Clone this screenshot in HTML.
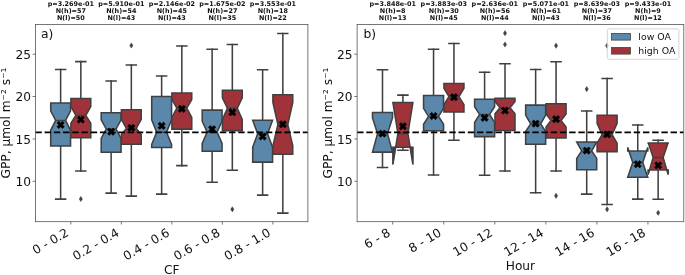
<!DOCTYPE html>
<html lang="en"><head><meta charset="utf-8"><title>GPP boxplots</title>
<style>html,body{margin:0;padding:0;background:#fff}svg{display:block}</style></head>
<body>
<svg width="685" height="275" viewBox="0 0 685 275" font-family="'DejaVu Sans','Liberation Sans',sans-serif" fill="#111">
<rect width="685" height="275" fill="#fff"/>
<clipPath id="cl"><rect x="35.4" y="24.5" width="272.5" height="197.2"/></clipPath>
<g clip-path="url(#cl)">
<path d="M60.63 103V69.45M60.63 146V199.1" stroke="#404040" stroke-width="1.55" fill="none" stroke-linecap="square"/>
<path d="M55.67 69.45H65.59M55.67 199.1H65.59" stroke="#404040" stroke-width="1.55" fill="none" stroke-linecap="square"/>
<path d="M50.7 146 L70.55 146 L70.55 130.3 L65.59 120.4 L70.55 110.9 L70.55 103 L50.7 103 L50.7 110.9 L55.67 120.4 L50.7 130.3 L50.7 146Z" fill="#5b87ab" stroke="#404040" stroke-width="1.55" stroke-linejoin="miter"/>
<path d="M55.67 120.4H65.59" stroke="#404040" stroke-width="1.55" fill="none"/>
<path d="M80.83 98.4V61.6M80.83 137.7V171" stroke="#404040" stroke-width="1.55" fill="none" stroke-linecap="square"/>
<path d="M75.87 61.6H85.79M75.87 171H85.79" stroke="#404040" stroke-width="1.55" fill="none" stroke-linecap="square"/>
<path d="M70.9 137.7 L90.75 137.7 L90.75 123.2 L85.79 115.4 L90.75 106.5 L90.75 98.4 L70.9 98.4 L70.9 106.5 L75.87 115.4 L70.9 123.2 L70.9 137.7Z" fill="#a0333a" stroke="#404040" stroke-width="1.55" stroke-linejoin="miter"/>
<path d="M75.87 115.4H85.79" stroke="#404040" stroke-width="1.55" fill="none"/>
<path d="M80.83 196.4L82.43 199L80.83 201.6L79.23 199Z" fill="#404040" stroke="#404040" stroke-width="0.5"/>
<path d="M111.13 112.8V81M111.13 152.3V193.1" stroke="#404040" stroke-width="1.55" fill="none" stroke-linecap="square"/>
<path d="M106.17 81H116.09M106.17 193.1H116.09" stroke="#404040" stroke-width="1.55" fill="none" stroke-linecap="square"/>
<path d="M101.2 152.3 L121.05 152.3 L121.05 138.4 L116.09 129 L121.05 119.8 L121.05 112.8 L101.2 112.8 L101.2 119.8 L106.17 129 L101.2 138.4 L101.2 152.3Z" fill="#5b87ab" stroke="#404040" stroke-width="1.55" stroke-linejoin="miter"/>
<path d="M106.17 129H116.09" stroke="#404040" stroke-width="1.55" fill="none"/>
<path d="M131.33 109.8V65M131.33 144.3V196.1" stroke="#404040" stroke-width="1.55" fill="none" stroke-linecap="square"/>
<path d="M126.37 65H136.29M126.37 196.1H136.29" stroke="#404040" stroke-width="1.55" fill="none" stroke-linecap="square"/>
<path d="M121.4 144.3 L141.25 144.3 L141.25 134.6 L136.29 128.4 L141.25 119.2 L141.25 109.8 L121.4 109.8 L121.4 119.2 L126.37 128.4 L121.4 134.6 L121.4 144.3Z" fill="#a0333a" stroke="#404040" stroke-width="1.55" stroke-linejoin="miter"/>
<path d="M126.37 128.4H136.29" stroke="#404040" stroke-width="1.55" fill="none"/>
<path d="M131.33 42.9L132.93 45.5L131.33 48.1L129.73 45.5Z" fill="#404040" stroke="#404040" stroke-width="0.5"/>
<path d="M161.63 96.4V76.05M161.63 147.4V194.1" stroke="#404040" stroke-width="1.55" fill="none" stroke-linecap="square"/>
<path d="M156.67 76.05H166.59M156.67 194.1H166.59" stroke="#404040" stroke-width="1.55" fill="none" stroke-linecap="square"/>
<path d="M151.7 147.4 L171.56 147.4 L171.56 144.5 L166.59 132.2 L171.56 119.9 L171.56 96.4 L151.7 96.4 L151.7 119.9 L156.67 132.2 L151.7 144.5 L151.7 147.4Z" fill="#5b87ab" stroke="#404040" stroke-width="1.55" stroke-linejoin="miter"/>
<path d="M156.67 132.2H166.59" stroke="#404040" stroke-width="1.55" fill="none"/>
<path d="M181.83 92.9V46.05M181.83 129.1V165.6" stroke="#404040" stroke-width="1.55" fill="none" stroke-linecap="square"/>
<path d="M176.87 46.05H186.79M176.87 165.6H186.79" stroke="#404040" stroke-width="1.55" fill="none" stroke-linecap="square"/>
<path d="M171.9 129.1 L191.75 129.1 L191.75 117.4 L186.79 108.2 L191.75 99.5 L191.75 92.9 L171.9 92.9 L171.9 99.5 L176.87 108.2 L171.9 117.4 L171.9 129.1Z" fill="#a0333a" stroke="#404040" stroke-width="1.55" stroke-linejoin="miter"/>
<path d="M176.87 108.2H186.79" stroke="#404040" stroke-width="1.55" fill="none"/>
<path d="M212.13 110.1V49.3M212.13 151.2V182.3" stroke="#404040" stroke-width="1.55" fill="none" stroke-linecap="square"/>
<path d="M207.17 49.3H217.09M207.17 182.3H217.09" stroke="#404040" stroke-width="1.55" fill="none" stroke-linecap="square"/>
<path d="M202.2 151.2 L222.06 151.2 L222.06 143.5 L217.09 132.1 L222.06 121.2 L222.06 110.1 L202.2 110.1 L202.2 121.2 L207.17 132.1 L202.2 143.5 L202.2 151.2Z" fill="#5b87ab" stroke="#404040" stroke-width="1.55" stroke-linejoin="miter"/>
<path d="M207.17 132.1H217.09" stroke="#404040" stroke-width="1.55" fill="none"/>
<path d="M232.33 90.2V44.45M232.33 130.6V170.2" stroke="#404040" stroke-width="1.55" fill="none" stroke-linecap="square"/>
<path d="M227.37 44.45H237.29M227.37 170.2H237.29" stroke="#404040" stroke-width="1.55" fill="none" stroke-linecap="square"/>
<path d="M222.4 130.6 L242.25 130.6 L242.25 119.4 L237.29 108.2 L242.25 97.9 L242.25 90.2 L222.4 90.2 L222.4 97.9 L227.37 108.2 L222.4 119.4 L222.4 130.6Z" fill="#a0333a" stroke="#404040" stroke-width="1.55" stroke-linejoin="miter"/>
<path d="M227.37 108.2H237.29" stroke="#404040" stroke-width="1.55" fill="none"/>
<path d="M232.33 206.7L233.93 209.3L232.33 211.9L230.73 209.3Z" fill="#404040" stroke="#404040" stroke-width="0.5"/>
<path d="M262.63 120.3V69.75M262.63 162.1V195.1" stroke="#404040" stroke-width="1.55" fill="none" stroke-linecap="square"/>
<path d="M257.67 69.75H267.59M257.67 195.1H267.59" stroke="#404040" stroke-width="1.55" fill="none" stroke-linecap="square"/>
<path d="M252.7 162.1 L272.56 162.1 L272.56 147.2 L267.59 133.8 L272.56 120.3 L272.56 120.3 L252.7 120.3 L252.7 120.3 L257.67 133.8 L252.7 147.2 L252.7 162.1Z" fill="#5b87ab" stroke="#404040" stroke-width="1.55" stroke-linejoin="miter"/>
<path d="M257.67 133.8H267.59" stroke="#404040" stroke-width="1.55" fill="none"/>
<path d="M282.83 94.7V33.4M282.83 154.2V213.1" stroke="#404040" stroke-width="1.55" fill="none" stroke-linecap="square"/>
<path d="M277.87 33.4H287.79M277.87 213.1H287.79" stroke="#404040" stroke-width="1.55" fill="none" stroke-linecap="square"/>
<path d="M272.91 154.2 L292.76 154.2 L292.76 145.9 L287.79 124.6 L292.76 102.4 L292.76 94.7 L272.91 94.7 L272.91 102.4 L277.87 124.6 L272.91 145.9 L272.91 154.2Z" fill="#a0333a" stroke="#404040" stroke-width="1.55" stroke-linejoin="miter"/>
<path d="M277.87 124.6H287.79" stroke="#404040" stroke-width="1.55" fill="none"/>
<polygon points="58.78,121.2 60.63,123.05 62.48,121.2 64.33,123.05 62.48,124.9 64.33,126.75 62.48,128.6 60.63,126.75 58.78,128.6 56.93,126.75 58.78,124.9 56.93,123.05" fill="#000" stroke="#000" stroke-width="0.6" stroke-linejoin="miter"/>
<polygon points="78.98,115.9 80.83,117.75 82.68,115.9 84.53,117.75 82.68,119.6 84.53,121.45 82.68,123.3 80.83,121.45 78.98,123.3 77.13,121.45 78.98,119.6 77.13,117.75" fill="#000" stroke="#000" stroke-width="0.6" stroke-linejoin="miter"/>
<polygon points="109.28,128 111.13,129.85 112.98,128 114.83,129.85 112.98,131.7 114.83,133.55 112.98,135.4 111.13,133.55 109.28,135.4 107.43,133.55 109.28,131.7 107.43,129.85" fill="#000" stroke="#000" stroke-width="0.6" stroke-linejoin="miter"/>
<polygon points="129.48,124.2 131.33,126.05 133.18,124.2 135.03,126.05 133.18,127.9 135.03,129.75 133.18,131.6 131.33,129.75 129.48,131.6 127.63,129.75 129.48,127.9 127.63,126.05" fill="#000" stroke="#000" stroke-width="0.6" stroke-linejoin="miter"/>
<polygon points="159.78,122.1 161.63,123.95 163.48,122.1 165.33,123.95 163.48,125.8 165.33,127.65 163.48,129.5 161.63,127.65 159.78,129.5 157.93,127.65 159.78,125.8 157.93,123.95" fill="#000" stroke="#000" stroke-width="0.6" stroke-linejoin="miter"/>
<polygon points="179.98,105.1 181.83,106.95 183.68,105.1 185.53,106.95 183.68,108.8 185.53,110.65 183.68,112.5 181.83,110.65 179.98,112.5 178.13,110.65 179.98,108.8 178.13,106.95" fill="#000" stroke="#000" stroke-width="0.6" stroke-linejoin="miter"/>
<polygon points="210.28,125.5 212.13,127.35 213.98,125.5 215.83,127.35 213.98,129.2 215.83,131.05 213.98,132.9 212.13,131.05 210.28,132.9 208.43,131.05 210.28,129.2 208.43,127.35" fill="#000" stroke="#000" stroke-width="0.6" stroke-linejoin="miter"/>
<polygon points="230.48,108.6 232.33,110.45 234.18,108.6 236.03,110.45 234.18,112.3 236.03,114.15 234.18,116 232.33,114.15 230.48,116 228.63,114.15 230.48,112.3 228.63,110.45" fill="#000" stroke="#000" stroke-width="0.6" stroke-linejoin="miter"/>
<polygon points="260.78,132.8 262.63,134.65 264.48,132.8 266.33,134.65 264.48,136.5 266.33,138.35 264.48,140.2 262.63,138.35 260.78,140.2 258.93,138.35 260.78,136.5 258.93,134.65" fill="#000" stroke="#000" stroke-width="0.6" stroke-linejoin="miter"/>
<polygon points="280.98,120.6 282.83,122.45 284.68,120.6 286.53,122.45 284.68,124.3 286.53,126.15 284.68,128 282.83,126.15 280.98,128 279.13,126.15 280.98,124.3 279.13,122.45" fill="#000" stroke="#000" stroke-width="0.6" stroke-linejoin="miter"/>
<path d="M35.4 132.3H307.9" stroke="#000" stroke-width="1.74" stroke-dasharray="6.44 2.78" fill="none"/>
</g>
<rect x="35.4" y="24.5" width="272.5" height="197.2" fill="none" stroke="#4a4a4a" stroke-width="0.75"/>
<path d="M35.4 54.2h-2.8" stroke="#4a4a4a" stroke-width="0.75"/>
<text x="30.9" y="58.85" text-anchor="end" font-size="12.2">25</text>
<path d="M35.4 96.5h-2.8" stroke="#4a4a4a" stroke-width="0.75"/>
<text x="30.9" y="101.15" text-anchor="end" font-size="12.2">20</text>
<path d="M35.4 139.0h-2.8" stroke="#4a4a4a" stroke-width="0.75"/>
<text x="30.9" y="143.65" text-anchor="end" font-size="12.2">15</text>
<path d="M35.4 181.3h-2.8" stroke="#4a4a4a" stroke-width="0.75"/>
<text x="30.9" y="185.95" text-anchor="end" font-size="12.2">10</text>
<path d="M70.85 221.7v2.8" stroke="#4a4a4a" stroke-width="0.75"/>
<text transform="translate(67.45 231.7) rotate(-30)" text-anchor="end" font-size="12.2" y="4">0 - 0.2</text>
<text x="70.85" y="5.9" text-anchor="middle" font-size="6.45" font-weight="bold">p=3.269e-01</text>
<text x="70.85" y="13.1" text-anchor="middle" font-size="6.45" font-weight="bold">N(h)=57</text>
<text x="70.85" y="20.3" text-anchor="middle" font-size="6.45" font-weight="bold">N(l)=50</text>
<path d="M121.35 221.7v2.8" stroke="#4a4a4a" stroke-width="0.75"/>
<text transform="translate(117.95 231.7) rotate(-30)" text-anchor="end" font-size="12.2" y="4">0.2 - 0.4</text>
<text x="121.35" y="5.9" text-anchor="middle" font-size="6.45" font-weight="bold">p=5.910e-01</text>
<text x="121.35" y="13.1" text-anchor="middle" font-size="6.45" font-weight="bold">N(h)=54</text>
<text x="121.35" y="20.3" text-anchor="middle" font-size="6.45" font-weight="bold">N(l)=43</text>
<path d="M171.85 221.7v2.8" stroke="#4a4a4a" stroke-width="0.75"/>
<text transform="translate(168.45 231.7) rotate(-30)" text-anchor="end" font-size="12.2" y="4">0.4 - 0.6</text>
<text x="171.85" y="5.9" text-anchor="middle" font-size="6.45" font-weight="bold">p=2.146e-02</text>
<text x="171.85" y="13.1" text-anchor="middle" font-size="6.45" font-weight="bold">N(h)=45</text>
<text x="171.85" y="20.3" text-anchor="middle" font-size="6.45" font-weight="bold">N(l)=43</text>
<path d="M222.35 221.7v2.8" stroke="#4a4a4a" stroke-width="0.75"/>
<text transform="translate(218.95 231.7) rotate(-30)" text-anchor="end" font-size="12.2" y="4">0.6 - 0.8</text>
<text x="222.35" y="5.9" text-anchor="middle" font-size="6.45" font-weight="bold">p=1.675e-02</text>
<text x="222.35" y="13.1" text-anchor="middle" font-size="6.45" font-weight="bold">N(h)=27</text>
<text x="222.35" y="20.3" text-anchor="middle" font-size="6.45" font-weight="bold">N(l)=35</text>
<path d="M272.85 221.7v2.8" stroke="#4a4a4a" stroke-width="0.75"/>
<text transform="translate(269.45 231.7) rotate(-30)" text-anchor="end" font-size="12.2" y="4">0.8 - 1.0</text>
<text x="272.85" y="5.9" text-anchor="middle" font-size="6.45" font-weight="bold">p=3.553e-01</text>
<text x="272.85" y="13.1" text-anchor="middle" font-size="6.45" font-weight="bold">N(h)=18</text>
<text x="272.85" y="20.3" text-anchor="middle" font-size="6.45" font-weight="bold">N(l)=22</text>
<text x="171.8" y="273.7" text-anchor="middle" font-size="12.2">CF</text>
<text x="41" y="38.0" font-size="12.3">a)</text>
<text transform="translate(10 123) rotate(-90)" text-anchor="middle" font-size="12.2">GPP, µmol m⁻² s⁻¹</text>
<clipPath id="cr"><rect x="357.1" y="24.5" width="326.7" height="197.2"/></clipPath>
<g clip-path="url(#cr)">
<path d="M382.5 112.5V69.7M382.5 152.1V167.5" stroke="#404040" stroke-width="1.55" fill="none" stroke-linecap="square"/>
<path d="M377.5 69.7H387.5M377.5 167.5H387.5" stroke="#404040" stroke-width="1.55" fill="none" stroke-linecap="square"/>
<path d="M372.5 152.1 L392.5 152.1 L392.5 152.1 L387.5 133.6 L392.5 118 L392.5 112.5 L372.5 112.5 L372.5 118 L377.5 133.6 L372.5 152.1 L372.5 152.1Z" fill="#5b87ab" stroke="#404040" stroke-width="1.55" stroke-linejoin="miter"/>
<path d="M377.5 133.6H387.5" stroke="#404040" stroke-width="1.55" fill="none"/>
<path d="M402.9 102.4V95.1M402.9 147.2V150.3" stroke="#404040" stroke-width="1.55" fill="none" stroke-linecap="square"/>
<path d="M397.9 95.1H407.9M397.9 150.3H407.9" stroke="#404040" stroke-width="1.55" fill="none" stroke-linecap="square"/>
<path d="M392.9 147.2 L412.9 147.2 L412.9 164.4 L407.9 133.6 L412.9 102.4 L412.9 102.4 L392.9 102.4 L392.9 102.4 L397.9 133.6 L392.9 164.4 L392.9 147.2Z" fill="#a0333a" stroke="#404040" stroke-width="1.55" stroke-linejoin="miter"/>
<path d="M397.9 133.6H407.9" stroke="#404040" stroke-width="1.55" fill="none"/>
<path d="M412.9 147.2L412.9 164.4L410.11 147.2ZM392.9 147.2L392.9 164.4L395.69 147.2Z" fill="#404040" stroke="#404040" stroke-width="0.5" stroke-linejoin="miter"/>
<path d="M433.55 95.4V49.3M433.55 130.8V174.95" stroke="#404040" stroke-width="1.55" fill="none" stroke-linecap="square"/>
<path d="M428.55 49.3H438.55M428.55 174.95H438.55" stroke="#404040" stroke-width="1.55" fill="none" stroke-linecap="square"/>
<path d="M423.55 130.8 L443.55 130.8 L443.55 124.3 L438.55 116.4 L443.55 108.3 L443.55 95.4 L423.55 95.4 L423.55 108.3 L428.55 116.4 L423.55 124.3 L423.55 130.8Z" fill="#5b87ab" stroke="#404040" stroke-width="1.55" stroke-linejoin="miter"/>
<path d="M428.55 116.4H438.55" stroke="#404040" stroke-width="1.55" fill="none"/>
<path d="M453.95 83.5V43.5M453.95 111.9V140.3" stroke="#404040" stroke-width="1.55" fill="none" stroke-linecap="square"/>
<path d="M448.95 43.5H458.95M448.95 140.3H458.95" stroke="#404040" stroke-width="1.55" fill="none" stroke-linecap="square"/>
<path d="M443.95 111.9 L463.95 111.9 L463.95 104.8 L458.95 96.6 L463.95 88.3 L463.95 83.5 L443.95 83.5 L443.95 88.3 L448.95 96.6 L443.95 104.8 L443.95 111.9Z" fill="#a0333a" stroke="#404040" stroke-width="1.55" stroke-linejoin="miter"/>
<path d="M448.95 96.6H458.95" stroke="#404040" stroke-width="1.55" fill="none"/>
<path d="M484.6 99.2V72.3M484.6 136.6V175.2" stroke="#404040" stroke-width="1.55" fill="none" stroke-linecap="square"/>
<path d="M479.6 72.3H489.6M479.6 175.2H489.6" stroke="#404040" stroke-width="1.55" fill="none" stroke-linecap="square"/>
<path d="M474.6 136.6 L494.6 136.6 L494.6 122.4 L489.6 114.4 L494.6 106.7 L494.6 99.2 L474.6 99.2 L474.6 106.7 L479.6 114.4 L474.6 122.4 L474.6 136.6Z" fill="#5b87ab" stroke="#404040" stroke-width="1.55" stroke-linejoin="miter"/>
<path d="M479.6 114.4H489.6" stroke="#404040" stroke-width="1.55" fill="none"/>
<path d="M505 98.3V63.8M505 130.5V171" stroke="#404040" stroke-width="1.55" fill="none" stroke-linecap="square"/>
<path d="M500 63.8H510M500 171H510" stroke="#404040" stroke-width="1.55" fill="none" stroke-linecap="square"/>
<path d="M495 130.5 L515 130.5 L515 113.8 L510 107.8 L515 101.6 L515 98.3 L495 98.3 L495 101.6 L500 107.8 L495 113.8 L495 130.5Z" fill="#a0333a" stroke="#404040" stroke-width="1.55" stroke-linejoin="miter"/>
<path d="M500 107.8H510" stroke="#404040" stroke-width="1.55" fill="none"/>
<path d="M505 30.6L506.6 33.2L505 35.8L503.4 33.2Z" fill="#404040" stroke="#404040" stroke-width="0.5"/>
<path d="M505 41.9L506.6 44.5L505 47.1L503.4 44.5Z" fill="#404040" stroke="#404040" stroke-width="0.5"/>
<path d="M535.65 105.1V69.4M535.65 144.3V192.8" stroke="#404040" stroke-width="1.55" fill="none" stroke-linecap="square"/>
<path d="M530.65 69.4H540.65M530.65 192.8H540.65" stroke="#404040" stroke-width="1.55" fill="none" stroke-linecap="square"/>
<path d="M525.65 144.3 L545.65 144.3 L545.65 131.5 L540.65 123.8 L545.65 115.1 L545.65 105.1 L525.65 105.1 L525.65 115.1 L530.65 123.8 L525.65 131.5 L525.65 144.3Z" fill="#5b87ab" stroke="#404040" stroke-width="1.55" stroke-linejoin="miter"/>
<path d="M530.65 123.8H540.65" stroke="#404040" stroke-width="1.55" fill="none"/>
<path d="M556.05 103.8V61.7M556.05 137.9V171" stroke="#404040" stroke-width="1.55" fill="none" stroke-linecap="square"/>
<path d="M551.05 61.7H561.05M551.05 171H561.05" stroke="#404040" stroke-width="1.55" fill="none" stroke-linecap="square"/>
<path d="M546.05 137.9 L566.05 137.9 L566.05 126.9 L561.05 120.4 L566.05 114.1 L566.05 103.8 L546.05 103.8 L546.05 114.1 L551.05 120.4 L546.05 126.9 L546.05 137.9Z" fill="#a0333a" stroke="#404040" stroke-width="1.55" stroke-linejoin="miter"/>
<path d="M551.05 120.4H561.05" stroke="#404040" stroke-width="1.55" fill="none"/>
<path d="M556.05 43.1L557.65 45.7L556.05 48.3L554.45 45.7Z" fill="#404040" stroke="#404040" stroke-width="0.5"/>
<path d="M556.05 193.2L557.65 195.8L556.05 198.4L554.45 195.8Z" fill="#404040" stroke="#404040" stroke-width="0.5"/>
<path d="M586.7 141.9V110.9M586.7 169.7V194.1" stroke="#404040" stroke-width="1.55" fill="none" stroke-linecap="square"/>
<path d="M581.7 110.9H591.7M581.7 194.1H591.7" stroke="#404040" stroke-width="1.55" fill="none" stroke-linecap="square"/>
<path d="M576.7 169.7 L596.7 169.7 L596.7 158.4 L591.7 151 L596.7 141.9 L596.7 141.9 L576.7 141.9 L576.7 141.9 L581.7 151 L576.7 158.4 L576.7 169.7Z" fill="#5b87ab" stroke="#404040" stroke-width="1.55" stroke-linejoin="miter"/>
<path d="M581.7 151H591.7" stroke="#404040" stroke-width="1.55" fill="none"/>
<path d="M586.7 86.5L588.3 89.1L586.7 91.7L585.1 89.1Z" fill="#404040" stroke="#404040" stroke-width="0.5"/>
<path d="M607.1 115.3V78.4M607.1 151.6V204.5" stroke="#404040" stroke-width="1.55" fill="none" stroke-linecap="square"/>
<path d="M602.1 78.4H612.1M602.1 204.5H612.1" stroke="#404040" stroke-width="1.55" fill="none" stroke-linecap="square"/>
<path d="M597.1 151.6 L617.1 151.6 L617.1 143.2 L612.1 134.6 L617.1 123.4 L617.1 115.3 L597.1 115.3 L597.1 123.4 L602.1 134.6 L597.1 143.2 L597.1 151.6Z" fill="#a0333a" stroke="#404040" stroke-width="1.55" stroke-linejoin="miter"/>
<path d="M602.1 134.6H612.1" stroke="#404040" stroke-width="1.55" fill="none"/>
<path d="M607.1 43.1L608.7 45.7L607.1 48.3L605.5 45.7Z" fill="#404040" stroke="#404040" stroke-width="0.5"/>
<path d="M607.1 206.7L608.7 209.3L607.1 211.9L605.5 209.3Z" fill="#404040" stroke="#404040" stroke-width="0.5"/>
<path d="M637.75 150.9V125M637.75 177.2V199.1" stroke="#404040" stroke-width="1.55" fill="none" stroke-linecap="square"/>
<path d="M632.75 125H642.75M632.75 199.1H642.75" stroke="#404040" stroke-width="1.55" fill="none" stroke-linecap="square"/>
<path d="M627.75 177.2 L647.75 177.2 L647.75 177.2 L642.75 162.5 L647.75 147.6 L647.75 150.9 L627.75 150.9 L627.75 147.6 L632.75 162.5 L627.75 177.2 L627.75 177.2Z" fill="#5b87ab" stroke="#404040" stroke-width="1.55" stroke-linejoin="miter"/>
<path d="M632.75 162.5H642.75" stroke="#404040" stroke-width="1.55" fill="none"/>
<path d="M647.75 150.9L647.75 147.6L646.64 150.9ZM627.75 150.9L627.75 147.6L628.86 150.9Z" fill="#404040" stroke="#404040" stroke-width="0.5" stroke-linejoin="miter"/>
<path d="M658.15 142.9V140.2M658.15 170V199.3" stroke="#404040" stroke-width="1.55" fill="none" stroke-linecap="square"/>
<path d="M653.15 140.2H663.15M653.15 199.3H663.15" stroke="#404040" stroke-width="1.55" fill="none" stroke-linecap="square"/>
<path d="M648.15 170 L668.15 170 L668.15 174.6 L663.15 157.4 L668.15 142.5 L668.15 142.9 L648.15 142.9 L648.15 142.5 L653.15 157.4 L648.15 174.6 L648.15 170Z" fill="#a0333a" stroke="#404040" stroke-width="1.55" stroke-linejoin="miter"/>
<path d="M653.15 157.4H663.15" stroke="#404040" stroke-width="1.55" fill="none"/>
<path d="M668.15 170L668.15 174.6L666.81 170ZM648.15 170L648.15 174.6L649.49 170Z" fill="#404040" stroke="#404040" stroke-width="0.5" stroke-linejoin="miter"/>
<path d="M668.15 142.9L668.15 142.5L668.02 142.9ZM648.15 142.9L648.15 142.5L648.28 142.9Z" fill="#404040" stroke="#404040" stroke-width="0.5" stroke-linejoin="miter"/>
<path d="M658.15 210.2L659.75 212.8L658.15 215.4L656.55 212.8Z" fill="#404040" stroke="#404040" stroke-width="0.5"/>
<polygon points="380.65,129.9 382.5,131.75 384.35,129.9 386.2,131.75 384.35,133.6 386.2,135.45 384.35,137.3 382.5,135.45 380.65,137.3 378.8,135.45 380.65,133.6 378.8,131.75" fill="#000" stroke="#000" stroke-width="0.6" stroke-linejoin="miter"/>
<polygon points="401.05,122.6 402.9,124.45 404.75,122.6 406.6,124.45 404.75,126.3 406.6,128.15 404.75,130 402.9,128.15 401.05,130 399.2,128.15 401.05,126.3 399.2,124.45" fill="#000" stroke="#000" stroke-width="0.6" stroke-linejoin="miter"/>
<polygon points="431.7,112.3 433.55,114.15 435.4,112.3 437.25,114.15 435.4,116 437.25,117.85 435.4,119.7 433.55,117.85 431.7,119.7 429.85,117.85 431.7,116 429.85,114.15" fill="#000" stroke="#000" stroke-width="0.6" stroke-linejoin="miter"/>
<polygon points="452.1,93.5 453.95,95.35 455.8,93.5 457.65,95.35 455.8,97.2 457.65,99.05 455.8,100.9 453.95,99.05 452.1,100.9 450.25,99.05 452.1,97.2 450.25,95.35" fill="#000" stroke="#000" stroke-width="0.6" stroke-linejoin="miter"/>
<polygon points="482.75,114.2 484.6,116.05 486.45,114.2 488.3,116.05 486.45,117.9 488.3,119.75 486.45,121.6 484.6,119.75 482.75,121.6 480.9,119.75 482.75,117.9 480.9,116.05" fill="#000" stroke="#000" stroke-width="0.6" stroke-linejoin="miter"/>
<polygon points="503.15,106.9 505,108.75 506.85,106.9 508.7,108.75 506.85,110.6 508.7,112.45 506.85,114.3 505,112.45 503.15,114.3 501.3,112.45 503.15,110.6 501.3,108.75" fill="#000" stroke="#000" stroke-width="0.6" stroke-linejoin="miter"/>
<polygon points="533.8,119.9 535.65,121.75 537.5,119.9 539.35,121.75 537.5,123.6 539.35,125.45 537.5,127.3 535.65,125.45 533.8,127.3 531.95,125.45 533.8,123.6 531.95,121.75" fill="#000" stroke="#000" stroke-width="0.6" stroke-linejoin="miter"/>
<polygon points="554.2,115.5 556.05,117.35 557.9,115.5 559.75,117.35 557.9,119.2 559.75,121.05 557.9,122.9 556.05,121.05 554.2,122.9 552.35,121.05 554.2,119.2 552.35,117.35" fill="#000" stroke="#000" stroke-width="0.6" stroke-linejoin="miter"/>
<polygon points="584.85,146.9 586.7,148.75 588.55,146.9 590.4,148.75 588.55,150.6 590.4,152.45 588.55,154.3 586.7,152.45 584.85,154.3 583,152.45 584.85,150.6 583,148.75" fill="#000" stroke="#000" stroke-width="0.6" stroke-linejoin="miter"/>
<polygon points="605.25,130.7 607.1,132.55 608.95,130.7 610.8,132.55 608.95,134.4 610.8,136.25 608.95,138.1 607.1,136.25 605.25,138.1 603.4,136.25 605.25,134.4 603.4,132.55" fill="#000" stroke="#000" stroke-width="0.6" stroke-linejoin="miter"/>
<polygon points="635.9,160.5 637.75,162.35 639.6,160.5 641.45,162.35 639.6,164.2 641.45,166.05 639.6,167.9 637.75,166.05 635.9,167.9 634.05,166.05 635.9,164.2 634.05,162.35" fill="#000" stroke="#000" stroke-width="0.6" stroke-linejoin="miter"/>
<polygon points="656.3,161.7 658.15,163.55 660,161.7 661.85,163.55 660,165.4 661.85,167.25 660,169.1 658.15,167.25 656.3,169.1 654.45,167.25 656.3,165.4 654.45,163.55" fill="#000" stroke="#000" stroke-width="0.6" stroke-linejoin="miter"/>
<path d="M357.1 132.3H683.8" stroke="#000" stroke-width="1.74" stroke-dasharray="6.44 2.78" fill="none"/>
</g>
<rect x="357.1" y="24.5" width="326.7" height="197.2" fill="none" stroke="#4a4a4a" stroke-width="0.75"/>
<path d="M357.1 54.2h-2.8" stroke="#4a4a4a" stroke-width="0.75"/>
<text x="352.6" y="58.85" text-anchor="end" font-size="12.2">25</text>
<path d="M357.1 96.5h-2.8" stroke="#4a4a4a" stroke-width="0.75"/>
<text x="352.6" y="101.15" text-anchor="end" font-size="12.2">20</text>
<path d="M357.1 139.0h-2.8" stroke="#4a4a4a" stroke-width="0.75"/>
<text x="352.6" y="143.65" text-anchor="end" font-size="12.2">15</text>
<path d="M357.1 181.3h-2.8" stroke="#4a4a4a" stroke-width="0.75"/>
<text x="352.6" y="185.95" text-anchor="end" font-size="12.2">10</text>
<path d="M392.7 221.7v2.8" stroke="#4a4a4a" stroke-width="0.75"/>
<text transform="translate(389.3 231.7) rotate(-30)" text-anchor="end" font-size="12.2" y="4">6 - 8</text>
<text x="392.7" y="5.9" text-anchor="middle" font-size="6.45" font-weight="bold">p=3.848e-01</text>
<text x="392.7" y="13.1" text-anchor="middle" font-size="6.45" font-weight="bold">N(h)=8</text>
<text x="392.7" y="20.3" text-anchor="middle" font-size="6.45" font-weight="bold">N(l)=13</text>
<path d="M443.75 221.7v2.8" stroke="#4a4a4a" stroke-width="0.75"/>
<text transform="translate(440.35 231.7) rotate(-30)" text-anchor="end" font-size="12.2" y="4">8 - 10</text>
<text x="443.75" y="5.9" text-anchor="middle" font-size="6.45" font-weight="bold">p=3.883e-03</text>
<text x="443.75" y="13.1" text-anchor="middle" font-size="6.45" font-weight="bold">N(h)=30</text>
<text x="443.75" y="20.3" text-anchor="middle" font-size="6.45" font-weight="bold">N(l)=45</text>
<path d="M494.8 221.7v2.8" stroke="#4a4a4a" stroke-width="0.75"/>
<text transform="translate(491.4 231.7) rotate(-30)" text-anchor="end" font-size="12.2" y="4">10 - 12</text>
<text x="494.8" y="5.9" text-anchor="middle" font-size="6.45" font-weight="bold">p=2.636e-01</text>
<text x="494.8" y="13.1" text-anchor="middle" font-size="6.45" font-weight="bold">N(h)=56</text>
<text x="494.8" y="20.3" text-anchor="middle" font-size="6.45" font-weight="bold">N(l)=44</text>
<path d="M545.85 221.7v2.8" stroke="#4a4a4a" stroke-width="0.75"/>
<text transform="translate(542.45 231.7) rotate(-30)" text-anchor="end" font-size="12.2" y="4">12 - 14</text>
<text x="545.85" y="5.9" text-anchor="middle" font-size="6.45" font-weight="bold">p=5.071e-01</text>
<text x="545.85" y="13.1" text-anchor="middle" font-size="6.45" font-weight="bold">N(h)=61</text>
<text x="545.85" y="20.3" text-anchor="middle" font-size="6.45" font-weight="bold">N(l)=43</text>
<path d="M596.9 221.7v2.8" stroke="#4a4a4a" stroke-width="0.75"/>
<text transform="translate(593.5 231.7) rotate(-30)" text-anchor="end" font-size="12.2" y="4">14 - 16</text>
<text x="596.9" y="5.9" text-anchor="middle" font-size="6.45" font-weight="bold">p=8.639e-03</text>
<text x="596.9" y="13.1" text-anchor="middle" font-size="6.45" font-weight="bold">N(h)=37</text>
<text x="596.9" y="20.3" text-anchor="middle" font-size="6.45" font-weight="bold">N(l)=36</text>
<path d="M647.95 221.7v2.8" stroke="#4a4a4a" stroke-width="0.75"/>
<text transform="translate(644.55 231.7) rotate(-30)" text-anchor="end" font-size="12.2" y="4">16 - 18</text>
<text x="647.95" y="5.9" text-anchor="middle" font-size="6.45" font-weight="bold">p=9.433e-01</text>
<text x="647.95" y="13.1" text-anchor="middle" font-size="6.45" font-weight="bold">N(h)=9</text>
<text x="647.95" y="20.3" text-anchor="middle" font-size="6.45" font-weight="bold">N(l)=12</text>
<text x="520.4" y="269.5" text-anchor="middle" font-size="12.2">Hour</text>
<text x="363.5" y="38.0" font-size="12.3">b)</text>
<text transform="translate(331.7 123) rotate(-90)" text-anchor="middle" font-size="12.2">GPP, µmol m⁻² s⁻¹</text>
<rect x="607.3" y="28.8" width="71.6" height="30.5" rx="1.6" fill="#fff" fill-opacity="0.8" stroke="#ccc" stroke-width="0.8"/>
<rect x="611.6" y="33.5" width="18.8" height="6.6" fill="#5b87ab" stroke="#404040" stroke-width="0.8"/>
<rect x="611.6" y="47.5" width="18.8" height="6.6" fill="#a0333a" stroke="#404040" stroke-width="0.8"/>
<text x="638.3" y="40.0" font-size="9.4">low OA</text>
<text x="638.3" y="53.7" font-size="9.4">high OA</text>
</svg>
</body></html>
